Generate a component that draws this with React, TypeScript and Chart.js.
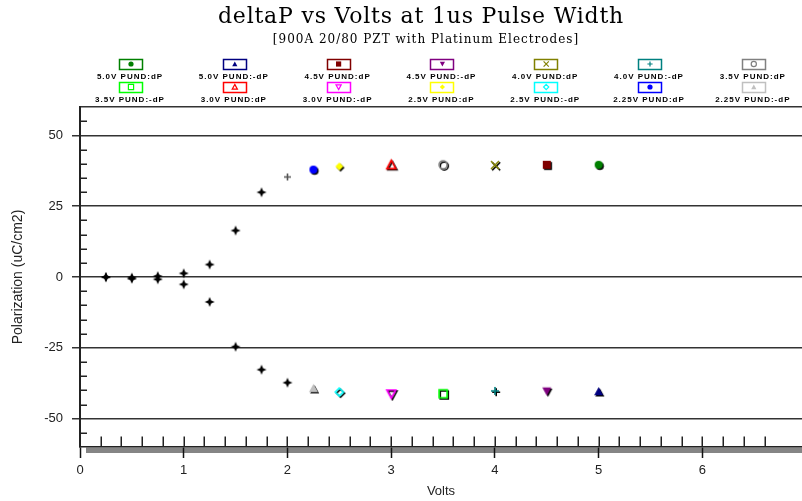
import React, { useEffect, useRef } from "react";
import { Chart, registerables } from "chart.js";

Chart.register(...registerables);

const TITLE = "deltaP vs Volts at 1us Pulse Width";
const SUBTITLE = "[900A 20/80 PZT with Platinum Electrodes]";
const X_TITLE = "Volts";
const Y_TITLE = "Polarization (uC/cm2)";

const X_MIN = 0;
const X_MAX = 6.96;
const X_MINOR_STEP = 0.2;
const Y_MIN = -60;
const Y_MAX = 60;
const Y_MINOR_STEP = 5;
const Y_MAJOR_STEP = 25;

const seriesLabels = [
  "5.0V PUND:dP", "5.0V PUND:-dP", "4.5V PUND:dP", "4.5V PUND:-dP", "4.0V PUND:dP", "4.0V PUND:-dP", "3.5V PUND:dP",
  "3.5V PUND:-dP", "3.0V PUND:dP", "3.0V PUND:-dP", "2.5V PUND:dP", "2.5V PUND:-dP", "2.25V PUND:dP", "2.25V PUND:-dP",
];
const seriesVolts = [5.0, 5.0, 4.5, 4.5, 4.0, 4.0, 3.5, 3.5, 3.0, 3.0, 2.5, 2.5, 2.25, 2.25];
const seriesValues = [39.6, -40.4, 39.6, -40.3, 39.5, -40.2, 39.6, -41.2, 39.6, -41.2, 39.0, -40.6, 37.9, -39.3];
const seriesColors = [
  "#008000", "#000080", "#800000", "#800080", "#808000", "#008080", "#808080",
  "#00ff00", "#ff0000", "#ff00ff", "#ffff00", "#00ffff", "#0000ff", "#c0c0c0",
];
const seriesShapes = [
  "circle", "triangle", "square", "triangleDown", "x", "plus", "circleOpen",
  "squareOpen", "triangleOpen", "triangleDownOpen", "diamond", "diamondOpen", "circle", "triangle",
];

const rampVoltsPos = [0.25, 0.5, 0.75, 1.0, 1.25, 1.5, 1.75];
const rampValuesPos = [0.0, -0.2, 0.3, 1.3, 4.4, 16.4, 29.9];
const rampVoltsNeg = [0.25, 0.5, 0.75, 1.0, 1.25, 1.5, 1.75, 2.0];
const rampValuesNeg = [-0.1, -0.6, -0.8, -2.6, -8.8, -24.6, -32.7, -37.3];
const twoVoltVolts = [2.0];
const twoVoltValues = [35.3];

const SANS = "'Liberation Sans', Arial, sans-serif";

function tracePath(ctx: CanvasRenderingContext2D, shape: string, x: number, y: number, r: number) {
  ctx.beginPath();
  const s = shape.replace("Open", "");
  switch (s) {
    case "circle":
      ctx.arc(x, y, r, 0, Math.PI * 2);
      break;
    case "square":
      ctx.rect(x - r, y - r, 2 * r, 2 * r);
      break;
    case "triangle":
      ctx.moveTo(x, y - r);
      ctx.lineTo(x + r, y + r * 0.85);
      ctx.lineTo(x - r, y + r * 0.85);
      ctx.closePath();
      break;
    case "triangleDown":
      ctx.moveTo(x, y + r);
      ctx.lineTo(x + r, y - r * 0.85);
      ctx.lineTo(x - r, y - r * 0.85);
      ctx.closePath();
      break;
    case "diamond":
      ctx.moveTo(x, y - r);
      ctx.lineTo(x + r, y);
      ctx.lineTo(x, y + r);
      ctx.lineTo(x - r, y);
      ctx.closePath();
      break;
    case "x":
      ctx.moveTo(x - r, y - r);
      ctx.lineTo(x + r, y + r);
      ctx.moveTo(x + r, y - r);
      ctx.lineTo(x - r, y + r);
      break;
    case "plus":
      ctx.moveTo(x - r, y);
      ctx.lineTo(x + r, y);
      ctx.moveTo(x, y - r);
      ctx.lineTo(x, y + r);
      break;
    case "star4": {
      const k = r * 0.3;
      ctx.moveTo(x, y - r);
      ctx.lineTo(x + k, y - k);
      ctx.lineTo(x + r, y);
      ctx.lineTo(x + k, y + k);
      ctx.lineTo(x, y + r);
      ctx.lineTo(x - k, y + k);
      ctx.lineTo(x - r, y);
      ctx.lineTo(x - k, y - k);
      ctx.closePath();
      break;
    }
  }
}

function paintShape(ctx: CanvasRenderingContext2D, shape: string, x: number, y: number, r: number, color: string, lw: number) {
  tracePath(ctx, shape, x, y, r);
  if (shape === "x" || shape === "plus" || shape.endsWith("Open")) {
    ctx.strokeStyle = color;
    ctx.lineWidth = lw;
    ctx.stroke();
  } else {
    ctx.fillStyle = color;
    ctx.fill();
  }
}

function makeMarker(shape: string, color: string, r: number, shadow: boolean) {
  const size = Math.ceil(2 * r + 6);
  const c = document.createElement("canvas");
  c.width = size;
  c.height = size;
  const g = c.getContext("2d")!;
  const m = size / 2;
  if (shadow) paintShape(g, shape, m + 1.2, m + 1.2, r, "#000", 1.6);
  paintShape(g, shape, m, m, r, color, 1.6);
  return c;
}

const isInt = (v: number) => Math.abs(v - Math.round(v)) < 1e-6;
const isMinorX = (v: number) => isInt(v / X_MINOR_STEP);
const isMajorY = (v: number) => Math.abs(v) <= 50 + 1e-6 && isInt(v / Y_MAJOR_STEP);

const decorPlugin = {
  id: "decor",
  beforeDraw(chart: any) {
    const { ctx, chartArea } = chart;
    ctx.save();
    ctx.fillStyle = "#858585";
    ctx.fillRect(chartArea.left + 6, chartArea.bottom + 0.5, chartArea.right - chartArea.left, 5.5);
    ctx.restore();
  },
  beforeDatasetsDraw(chart: any) {
    const { ctx, chartArea } = chart;
    const xs = chart.scales.x;
    const ys = chart.scales.y;
    ctx.save();
    ctx.strokeStyle = "#222";
    ctx.lineWidth = 1.5;
    ctx.beginPath();
    xs.ticks.forEach((t: any) => {
      if (t.value <= X_MIN + 1e-6 || !isMinorX(t.value)) return;
      const px = Math.round(xs.getPixelForValue(t.value)) + 0.25;
      ctx.moveTo(px, chartArea.bottom);
      ctx.lineTo(px, chartArea.bottom - 10.5);
    });
    ys.ticks.forEach((t: any) => {
      if (isMajorY(t.value) || t.value <= Y_MIN + 1e-6 || t.value >= Y_MAX - 1e-6) return;
      const py = Math.round(ys.getPixelForValue(t.value)) + 0.25;
      ctx.moveTo(chartArea.left, py);
      ctx.lineTo(chartArea.left + 7, py);
    });
    ctx.stroke();
    ctx.restore();
  },
  afterDraw(chart: any) {
    const { ctx } = chart;
    ctx.save();
    ctx.fillStyle = "#000";
    ctx.textAlign = "center";
    ctx.textBaseline = "middle";
    ctx.font = "22px 'DejaVu Serif', serif";
    (ctx as any).letterSpacing = "0.8px";
    ctx.fillText(TITLE, 421, 17);
    ctx.font = "12px 'DejaVu Serif', serif";
    (ctx as any).letterSpacing = "1px";
    ctx.fillText(SUBTITLE, 426, 40);

    // legend
    const cols = 7;
    const col0 = 131;
    const colStep = 103.8;
    const boxY = [64, 87];
    const textY = [76.5, 100];
    ctx.font = `bold 8px ${SANS}`;
    (ctx as any).letterSpacing = "1px";
    chart.data.datasets.forEach((ds: any, i: number) => {
      if (!ds.inLegend) return;
      const col = i % cols;
      const row = Math.floor(i / cols);
      const cx = col0 + col * colStep;
      ctx.lineWidth = 1.5;
      ctx.strokeStyle = ds.borderColor;
      ctx.strokeRect(Math.round(cx - 12) + 0.5, Math.round(boxY[row] - 5) + 0.5, 23, 10);
      paintShape(ctx, ds.markerShape, cx, boxY[row], 2.6, ds.borderColor, 1.2);
      ctx.fillStyle = "#000";
      ctx.fillText(ds.label, cx - 1, textY[row]);
    });
    ctx.restore();
  },
};

export default function App() {
  const ref = useRef<HTMLCanvasElement>(null);

  useEffect(() => {
    document.body.style.margin = "0";
    if (!ref.current) return;

    const datasets: any[] = seriesLabels.map((label, i) => ({
      label,
      data: [{ x: seriesVolts[i], y: seriesValues[i] }],
      pointStyle: makeMarker(seriesShapes[i], seriesColors[i], seriesShapes[i].startsWith("triangle") ? 4.5 : 4, true),
      pointRadius: 5,
      borderColor: seriesColors[i],
      backgroundColor: seriesColors[i],
      showLine: false,
      inLegend: true,
      markerShape: seriesShapes[i],
    }));
    const star = makeMarker("star4", "#000", 5, false);
    datasets.push({
      label: "ramp dP",
      data: rampVoltsPos.map((x, i) => ({ x, y: rampValuesPos[i] })),
      pointStyle: star,
      pointRadius: 5,
      borderColor: "#000",
      backgroundColor: "#000",
      showLine: false,
    });
    datasets.push({
      label: "ramp -dP",
      data: rampVoltsNeg.map((x, i) => ({ x, y: rampValuesNeg[i] })),
      pointStyle: star,
      pointRadius: 5,
      borderColor: "#000",
      backgroundColor: "#000",
      showLine: false,
    });
    datasets.push({
      label: "2.0V PUND:dP",
      data: twoVoltVolts.map((x, i) => ({ x, y: twoVoltValues[i] })),
      pointStyle: makeMarker("plus", "#555", 3.5, false),
      pointRadius: 4,
      borderColor: "#555",
      backgroundColor: "#555",
      showLine: false,
    });

    const chart = new Chart(ref.current, {
      type: "scatter",
      data: { datasets },
      options: {
        animation: false,
        responsive: false,
        devicePixelRatio: 1,
        layout: { autoPadding: false, padding: { top: 107, left: 0, right: 0, bottom: 0 } },
        plugins: {
          legend: { display: false },
          title: { display: false },
          tooltip: { enabled: false },
        },
        scales: {
          x: {
            type: "linear",
            position: "bottom",
            min: X_MIN,
            max: X_MAX,
            ticks: {
              stepSize: X_MINOR_STEP,
              maxTicksLimit: 1000,
              autoSkip: false,
              maxRotation: 0,
              padding: 5,
              color: "#222",
              font: { family: SANS, size: 13 },
              callback: (v: any) => (isInt(v) ? String(Math.round(v)) : ""),
            },
            grid: {
              drawOnChartArea: false,
              drawTicks: true,
              tickLength: 11,
              tickWidth: 1.5,
              tickColor: (c: any) => (isInt(c.tick.value) ? "#111" : "rgba(0,0,0,0)"),
            },
            border: { display: true, color: "#222", width: 1.5 },
            title: {
              display: true,
              text: X_TITLE,
              color: "#222",
              font: { family: SANS, size: 13 },
              padding: { top: 0, bottom: 2 },
            },
            afterFit: (s: any) => {
              s.height = 54;
              s.paddingRight = 0;
              s.paddingLeft = 0;
            },
          },
          y: {
            type: "linear",
            min: Y_MIN,
            max: Y_MAX,
            ticks: {
              stepSize: Y_MINOR_STEP,
              maxTicksLimit: 1000,
              autoSkip: false,
              padding: 9,
              color: "#222",
              font: { family: SANS, size: 13 },
              callback: (v: any) => (isMajorY(v) ? String(Math.round(v)) : ""),
            },
            grid: {
              drawTicks: true,
              tickLength: 8,
              lineWidth: 1.5,
              color: (c: any) => (isMajorY(c.tick.value) || c.tick.value >= Y_MAX ? "#333" : "rgba(0,0,0,0)"),
              tickColor: (c: any) => (isMajorY(c.tick.value) ? "#333" : "rgba(0,0,0,0)"),
            },
            border: { display: true, color: "#222", width: 2 },
            title: {
              display: true,
              text: Y_TITLE,
              color: "#222",
              font: { family: SANS, size: 14 },
              padding: { top: 10, bottom: 0 },
            },
            afterFit: (s: any) => {
              s.width = 80;
            },
          },
        },
      } as any,
      plugins: [decorPlugin],
    });

    return () => chart.destroy();
  }, []);

  return (
    <div style={{ width: 802, height: 501 }}>
      <canvas ref={ref} width={802} height={501} style={{ display: "block" }} />
    </div>
  );
}
